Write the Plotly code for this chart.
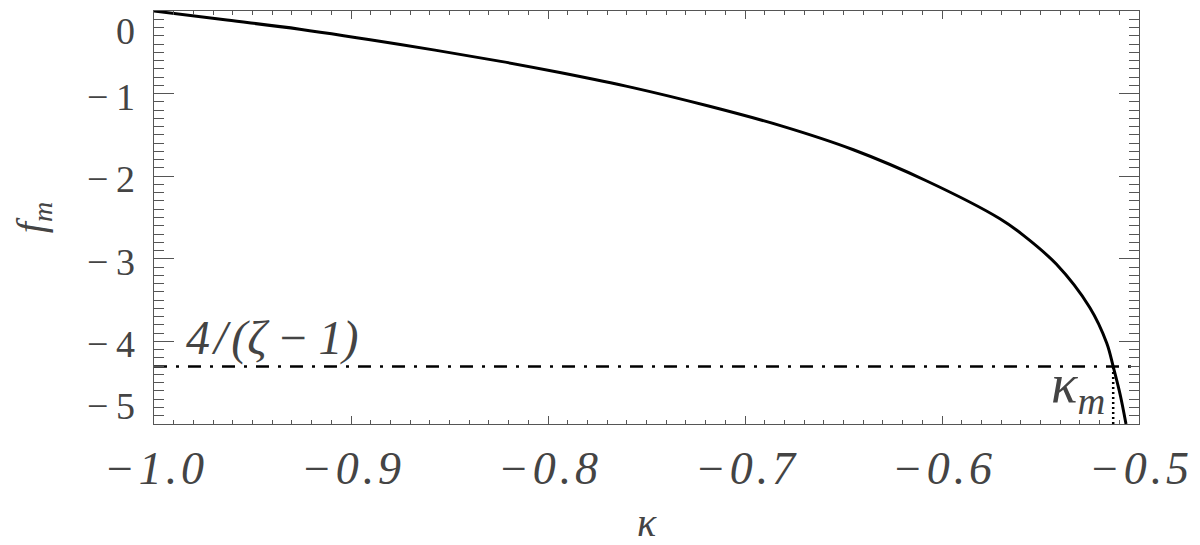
import plotly.graph_objects as go

# Data
kappa = [-1.000, -0.963, -0.926, -0.875, -0.824, -0.794, -0.757, -0.719, -0.682,
         -0.645, -0.608, -0.5706, -0.559, -0.542, -0.525, -0.5164, -0.5131,
         -0.5096, -0.5066]
f_m = [0.000, -0.110, -0.220, -0.405, -0.610, -0.745, -0.928, -1.148, -1.388,
       -1.680, -2.055, -2.515, -2.710, -3.064, -3.590, -4.020, -4.305,
       -4.640, -5.000]
f_limit = -4.305          # 4/(zeta-1)
kappa_m = -0.5131

x_ticks = [-1.0, -0.9, -0.8, -0.7, -0.6, -0.5]
x_ticktext = ["\u2212\u200a1\u200a.\u200a0", "\u2212\u200a0\u200a.\u200a9", "\u2212\u200a0\u200a.\u200a8",
              "\u2212\u200a0\u200a.\u200a7", "\u2212\u200a0\u200a.\u200a6", "\u2212\u200a0\u200a.\u200a5"]
y_ticks = [0, -1, -2, -3, -4, -5]
y_ticktext = ["0", "\u2212\u20091", "\u2212\u20092", "\u2212\u20093", "\u2212\u20094", "\u2212\u20095"]

FONT = "Liberation Serif"
TXT = "#444444"
AX = "#555555"

fig = go.Figure()
fig.add_trace(go.Scatter(x=kappa, y=f_m, mode="lines",
                         line=dict(color="black", width=3, shape="spline", smoothing=1.0),
                         showlegend=False, hoverinfo="skip"))
fig.add_trace(go.Scatter(x=[x_ticks[0], x_ticks[-1]], y=[f_limit, f_limit], mode="lines",
                         line=dict(color="black", width=2.5, dash="13px,9px,3px,9px"),
                         showlegend=False, hoverinfo="skip"))
fig.add_trace(go.Scatter(x=[kappa_m, kappa_m], y=[y_ticks[-1], f_limit], mode="lines",
                         line=dict(color="black", width=2.5, dash="2px,3px"),
                         showlegend=False, hoverinfo="skip"))

fig.add_annotation(x=x_ticks[0], y=f_limit, xref="x", yref="y", xanchor="left", yanchor="bottom",
                   text="4\u200a/\u200a(\u03b6\u2009\u2212\u20091)", showarrow=False, xshift=30, yshift=0,
                   font=dict(family=FONT, size=48, color=TXT, style="italic"))
fig.add_annotation(x=kappa_m, y=y_ticks[-1], xref="x", yref="y", xanchor="right", yanchor="bottom",
                   text="\u03ba<sub>m</sub>", showarrow=False, xshift=-6, yshift=0,
                   font=dict(family=FONT, size=55, color=TXT, style="italic"))

# y tick labels, kept inside the axis extent at both ends (as in the reference)
for i, (v, t) in enumerate(zip(y_ticks, y_ticktext)):
    if i == 0:
        anchor, ys = "top", 3
    elif i == len(y_ticks) - 1:
        anchor, ys = "bottom", -5
    else:
        anchor, ys = "middle", -3
    fig.add_annotation(x=0, y=v, xref="paper", yref="y", xanchor="right", yanchor=anchor,
                       text=t, showarrow=False, xshift=-17, yshift=ys,
                       font=dict(family=FONT, size=38, color=TXT))

axis_common = dict(showline=True, linecolor=AX, linewidth=1.3, mirror="allticks",
                   ticks="inside", tickcolor=AX, tickwidth=1.2, showgrid=False, zeroline=False,
                   automargin=False)

fig.update_xaxes(range=[x_ticks[0], x_ticks[-1]], tickvals=x_ticks, ticktext=x_ticktext, ticklen=8,
                 minor=dict(ticks="inside", ticklen=4, dtick=0.01, tickcolor=AX, tickwidth=1, showgrid=False),
                 tickfont=dict(family=FONT, size=46, color=TXT, style="italic"),
                 ticklabelstandoff=4, ticklabeloverflow="allow",
                 title=dict(text="\u03ba", font=dict(family=FONT, size=40, color=TXT, style="italic"), standoff=16),
                 **axis_common)
fig.update_yaxes(range=[y_ticks[-1], y_ticks[0]], tickvals=y_ticks, ticklen=20, showticklabels=False,
                 minor=dict(ticks="inside", ticklen=10, dtick=0.1, tickcolor=AX, tickwidth=1, showgrid=False),
                 title=dict(text="f<sub>m</sub>", font=dict(family=FONT, size=40, color=TXT, style="italic"), standoff=112),
                 **axis_common)

# page body has an 8px margin: shift the figure so the plot lands where the reference has it
fig.update_layout(width=1192, height=537, margin=dict(l=146, r=61, t=3, b=121),
                  plot_bgcolor="white", paper_bgcolor="white")
fig.write_html("out.html")
